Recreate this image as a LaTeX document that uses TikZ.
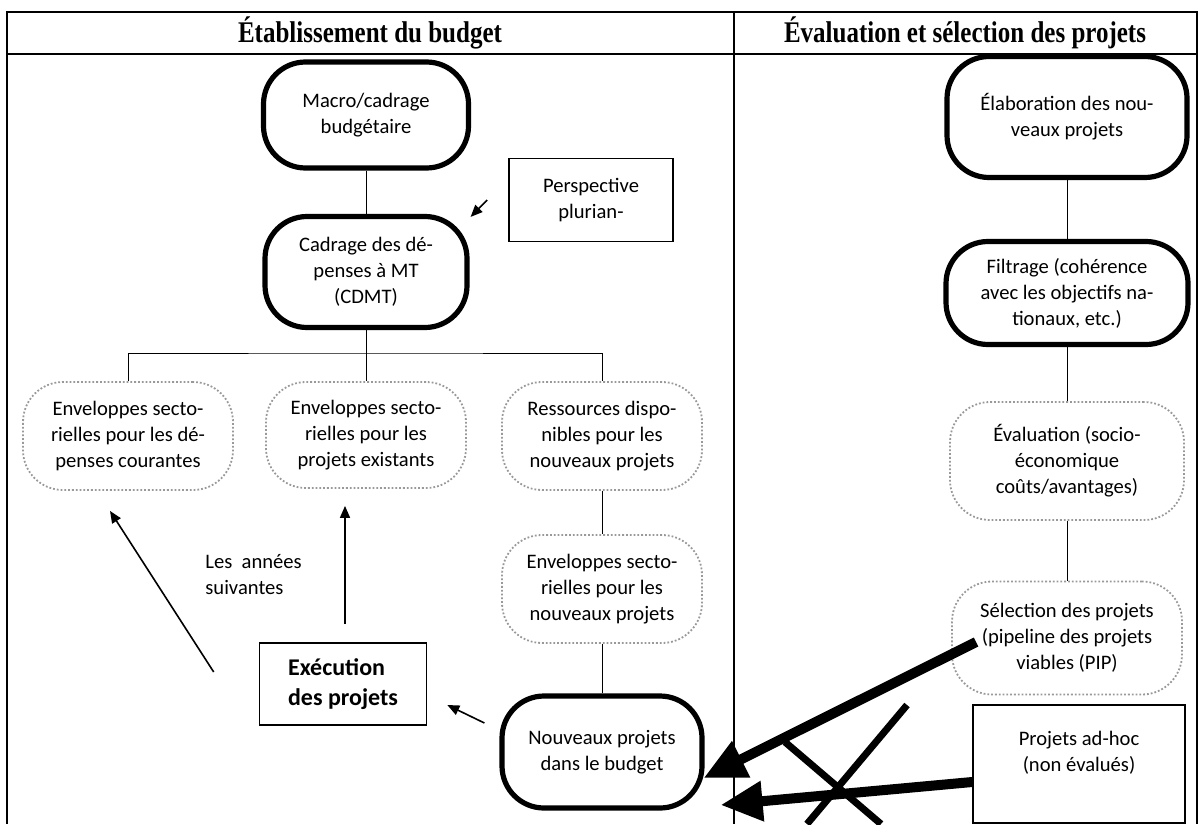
\documentclass[tikz,border=0pt]{standalone}
\usepackage{fontspec}
\setmainfont{Carlito}
\newfontfamily\headfont{Liberation Serif}
\usetikzlibrary{arrows.meta, positioning}

\begin{document}
\begin{tikzpicture}[
    x=0.5pt, y=-0.5pt,
    font=\fontsize{10.3pt}{13pt}\selectfont,
    thickbox/.style={rectangle, draw, line width=2.6pt, rounded corners=21pt, align=center, inner sep=2pt},
    softbox/.style={rectangle, draw=black!40, line width=0.9pt, densely dotted, rounded corners=20pt, align=center, inner sep=2pt},
    plainbox/.style={rectangle, draw, line width=0.8pt, align=center},
    head/.style={font=\headfont\bfseries\fontsize{12.5pt}{14pt}\selectfont},
    link/.style={line width=0.5pt},
    arr/.style={line width=0.8pt, -{Triangle[length=6pt,width=5pt]}},
    bigarr/.style={line width=5pt, -{Triangle[length=21pt,width=19pt]}},
    cross/.style={line width=3.5pt}
]
    \useasboundingbox (0,0) rectangle (1202,824);

    \draw [line width=0.8pt] (7,824) -- (7,12) -- (1197,12) -- (1197,824);
    \draw [line width=0.8pt] (7,54) -- (1197,54);
    \draw [line width=0.6pt] (734,12) -- (734,824);
    \node (headL) [head] at (370,33) {\scalebox{1}[1.2]{Établissement du budget}};
    \node (headR) [head] at (965,33) {\scalebox{1}[1.2]{Évaluation et sélection des projets}};

    \node (macro) [thickbox, minimum width=102.5pt, minimum height=53pt] at (366,115) {Macro/cadrage\\budgétaire};
    \node (cdmt) [thickbox, minimum width=101pt, minimum height=55.5pt] at (366,272) {Cadrage des dé-\\penses à MT\\(CDMT)};
    \node (persp) [plainbox, minimum width=82pt, minimum height=41.5pt] at (591,200) {Perspective\\plurian-};

    \node (envcour) [softbox, minimum width=105pt, minimum height=54pt] at (128,436) {Enveloppes secto-\\rielles pour les dé-\\penses courantes};
    \node (envexist) [softbox, minimum width=100pt, minimum height=53pt] at (366,435) {Enveloppes secto-\\rielles pour les\\projets existants};
    \node (ressources) [softbox, minimum width=100pt, minimum height=54pt] at (602,436) {Ressources dispo-\\nibles pour les\\nouveaux projets};
    \node (envnouv) [softbox, minimum width=100pt, minimum height=54pt] at (602,589) {Enveloppes secto-\\rielles pour les\\nouveaux projets};
    \node (nouveaux) [thickbox, minimum width=100pt, minimum height=56pt] at (602,752) {Nouveaux projets\\dans le budget};
    \node (exec) [plainbox, align=left, font=\fontsize{12pt}{15pt}\selectfont\bfseries, minimum width=83.5pt, minimum height=41pt] at (343,684) {Exécution\\des projets};
    \node (annees) [align=left, inner sep=0pt, anchor=west] at (205,575) {Les\ \ années\\suivantes};

    \node (elab) [thickbox, minimum width=120pt, minimum height=60.5pt] at (1067,117) {Élaboration des nou-\\veaux projets};
    \node (filtr) [thickbox, minimum width=121pt, minimum height=51.5pt] at (1067,293) {Filtrage (cohérence\\avec les objectifs na-\\tionaux, etc.)};
    \node (eval) [softbox, minimum width=117pt, minimum height=59pt] at (1067,461) {Évaluation (socio-\\économique\\coûts/avantages)};
    \node (select) [softbox, minimum width=115pt, minimum height=56.5pt] at (1067,638) {Sélection des projets\\(pipeline des projets\\viables (PIP)};
    \node (adhoc) [plainbox, minimum width=106pt, minimum height=59pt] at (1079,764) {Projets ad-hoc\\(non évalués)\\~};

    \coordinate (fork) at (366,353);
    \draw [link] (macro) -- (cdmt);
    \draw [link] (cdmt) -- (fork);
    \draw [link] (envcour.north) |- (fork) -| (ressources.north);
    \draw [link] (fork) -- (envexist.north);
    \draw [link] (ressources) -- (envnouv);
    \draw [link] (envnouv) -- (nouveaux);
    \draw [link] (elab) -- (filtr);
    \draw [link] (filtr) -- (eval);
    \draw [link] (eval) -- (select);

    \draw [arr] ([xshift=-10.5pt]persp.west) -- ([xshift=0.5pt,yshift=-1.5pt]cdmt.north east);
    \draw [arr] ([xshift=-22.5pt,yshift=6pt]exec.west) -- ([xshift=-9pt,yshift=-10pt]envcour.south);
    \draw [arr] ([xshift=1pt,yshift=9pt]exec.north) -- ([xshift=-10.5pt,yshift=-8.5pt]envexist.south);
    \draw [arr] ([xshift=-7.5pt,yshift=14.5pt]nouveaux.west) -- ([xshift=10pt,yshift=-10.5pt]exec.east);

    \draw [bigarr] ([xshift=12.5pt,yshift=-2pt]select.west) -- ([xshift=-0.5pt,yshift=-13pt]nouveaux.east);
    \draw [bigarr] ([yshift=-9pt]adhoc.west) -- ([xshift=8pt,yshift=-26.5pt]nouveaux.east);

    \draw [cross] (907,705) -- (807,824);
    \draw [cross] (785,742) -- (881,824);
\end{tikzpicture}
\end{document}
